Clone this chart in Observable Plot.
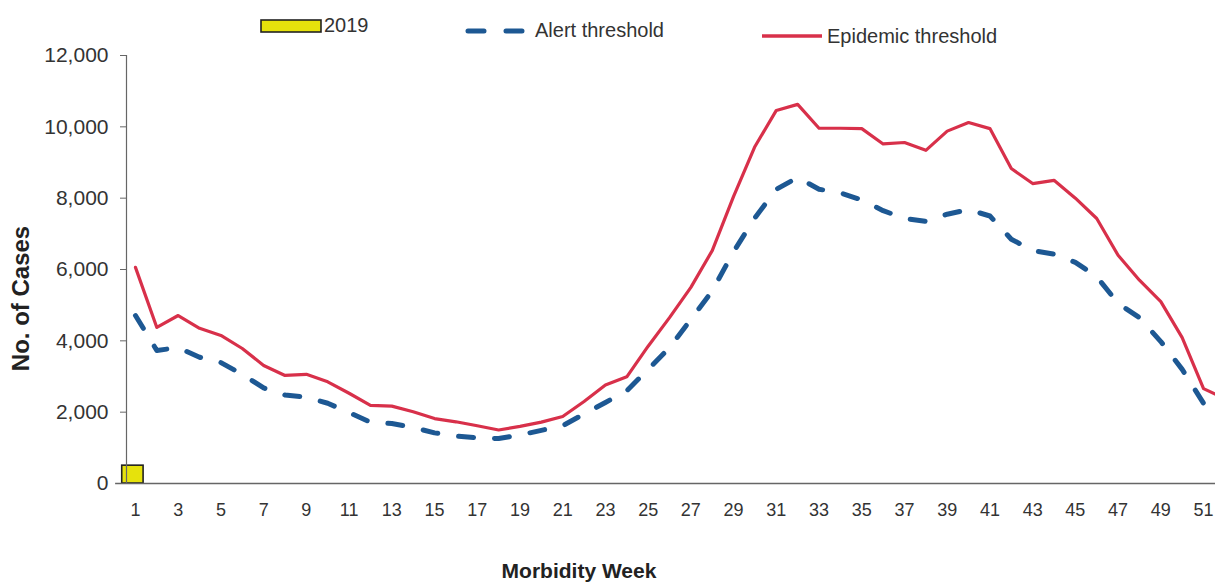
<!DOCTYPE html>
<html>
<head>
<meta charset="utf-8">
<script src="https://cdn.jsdelivr.net/npm/d3@7"></script>
<script src="https://cdn.jsdelivr.net/npm/@observablehq/plot@0.6"></script>
<style>
  body { margin: 0; background: #fff; font-family: "Liberation Sans", Arial, sans-serif; }
  #wrap { position: relative; width: 1215px; height: 585px; overflow: hidden; background: #fff; }
  #legend { position: absolute; left: 0; top: 0; z-index: 2; }
  #chart { position: absolute; left: 0; top: 45px; z-index: 1; }
  #legend text { font-family: "Liberation Sans", Arial, sans-serif; font-size: 20px; fill: #333; }
</style>
</head>
<body>
<div id="wrap">
  <div id="chart"></div>
  <svg id="legend" width="1215" height="56"></svg>
</div>
<script>
// ---- data ----
const weeks = [1,2,3,4,5,6,7,8,9,10,11,12,13,14,15,16,17,18,19,20,21,22,23,24,25,26,
               27,28,29,30,31,32,33,34,35,36,37,38,39,40,41,42,43,44,45,46,47,48,49,50,51,52];
const epidemicThreshold = [6060,4375,4710,4350,4150,3785,3310,3030,3060,2850,2530,2190,2170,2010,1820,1730,
                           1620,1500,1600,1720,1880,2300,2760,2990,3850,4650,5500,6530,8050,9450,10460,10630,
                           9960,9960,9950,9520,9560,9340,9880,10120,9950,8830,8410,8500,8000,7430,6400,5700,
                           5100,4090,2660,2380];
const alertThreshold = [4710,3730,3810,3540,3390,3060,2680,2480,2420,2250,1990,1720,1680,1570,1420,1330,
                        1280,1260,1360,1490,1620,1950,2270,2600,3200,3810,4600,5400,6500,7450,8250,8580,
                        8250,8150,7950,7650,7430,7350,7550,7680,7500,6850,6530,6430,6200,5800,5050,4650,
                        3980,3200,2250,1750];
const weeks2019 = [1];
const cases2019 = [500];
const xTickLabels = [1,3,5,7,9,11,13,15,17,19,21,23,25,27,29,31,33,35,37,39,41,43,45,47,49,51];
const yTickLabels = [0,2000,4000,6000,8000,10000,12000];
const legendLabels = ["2019", "Alert threshold", "Epidemic threshold"];
const xTitle = "Morbidity Week";
const yTitle = "No. of Cases";

// ---- tables built from the arrays ----
const epi = weeks.map((w, i) => ({week: w, value: epidemicThreshold[i]}));
const alertData = weeks.map((w, i) => ({week: w, value: alertThreshold[i]}));
const bars = weeks2019.map((w, i) => ({week: w, value: cases2019[i]}));

const RED = "#d8304a", BLUE = "#1d5893", YELLOW = "#e6e20c";
const xDomain = [0.58, 51.56];

const chart = Plot.plot({
  width: 1215,
  height: 540,
  marginLeft: 126,
  marginRight: 0,
  marginTop: 10,
  marginBottom: 102,
  style: {fontFamily: "Liberation Sans, Arial, sans-serif", background: "#fff", color: "#333", overflow: "visible"},
  x: {domain: xDomain, label: null},
  y: {domain: [0, 12000], label: null},
  marks: [
    Plot.rectY(bars, {x1: d => d.week - 0.62, x2: d => d.week + 0.38, y1: 0, y2: "value",
                      fill: YELLOW, stroke: "#222", strokeWidth: 1.6}),
    Plot.line(epi, {x: "week", y: "value", stroke: RED, strokeWidth: 3.2, clip: true}),
    Plot.line(alertData, {x: "week", y: "value", stroke: BLUE, strokeWidth: 5,
                          strokeDasharray: "15 21", strokeLinecap: "round", clip: true}),
    Plot.ruleX([xDomain[0]], {stroke: "#666", strokeWidth: 1.2}),
    Plot.ruleY([0], {x1: 0.07, x2: xDomain[1], stroke: "#666", strokeWidth: 1.4}),
    Plot.axisY({ticks: yTickLabels, tickFormat: d3.format(","), tickSize: 6, tickPadding: 12,
                fontSize: 21, stroke: "#666", fill: "#333", label: null}),
    Plot.axisX({ticks: xTickLabels, tickFormat: d => String(d), tickSize: 0, tickPadding: 20,
                fontSize: 18, fill: "#333", label: null}),
    Plot.text([yTitle], {frameAnchor: "left", rotate: -90, dx: -105, dy: 29, fontSize: 24,
                         fontWeight: "bold", fill: "#222", textAnchor: "middle", lineAnchor: "middle"}),
    Plot.text([xTitle], {frameAnchor: "bottom", dx: -92, dy: 88, fontSize: 21,
                         fontWeight: "bold", fill: "#222", textAnchor: "middle", lineAnchor: "middle"})
  ]
});
document.getElementById("chart").appendChild(chart);

// ---- legend above the plot ----
const lg = d3.select("#legend");
lg.append("rect").attr("x", 261).attr("y", 20).attr("width", 60).attr("height", 12)
  .attr("fill", YELLOW).attr("stroke", "#222").attr("stroke-width", 1.6);
lg.append("text").attr("x", 324).attr("y", 27).attr("dominant-baseline", "middle").text(legendLabels[0]);
lg.append("line").attr("x1", 468).attr("x2", 525).attr("y1", 31).attr("y2", 31)
  .attr("stroke", BLUE).attr("stroke-width", 5).attr("stroke-dasharray", "16 22").attr("stroke-linecap", "round");
lg.append("text").attr("x", 535).attr("y", 32).attr("dominant-baseline", "middle").text(legendLabels[1]);
lg.append("line").attr("x1", 762).attr("x2", 822).attr("y1", 36).attr("y2", 36)
  .attr("stroke", RED).attr("stroke-width", 3.5);
lg.append("text").attr("x", 827).attr("y", 38).attr("dominant-baseline", "middle").text(legendLabels[2]);
</script>
</body>
</html>
